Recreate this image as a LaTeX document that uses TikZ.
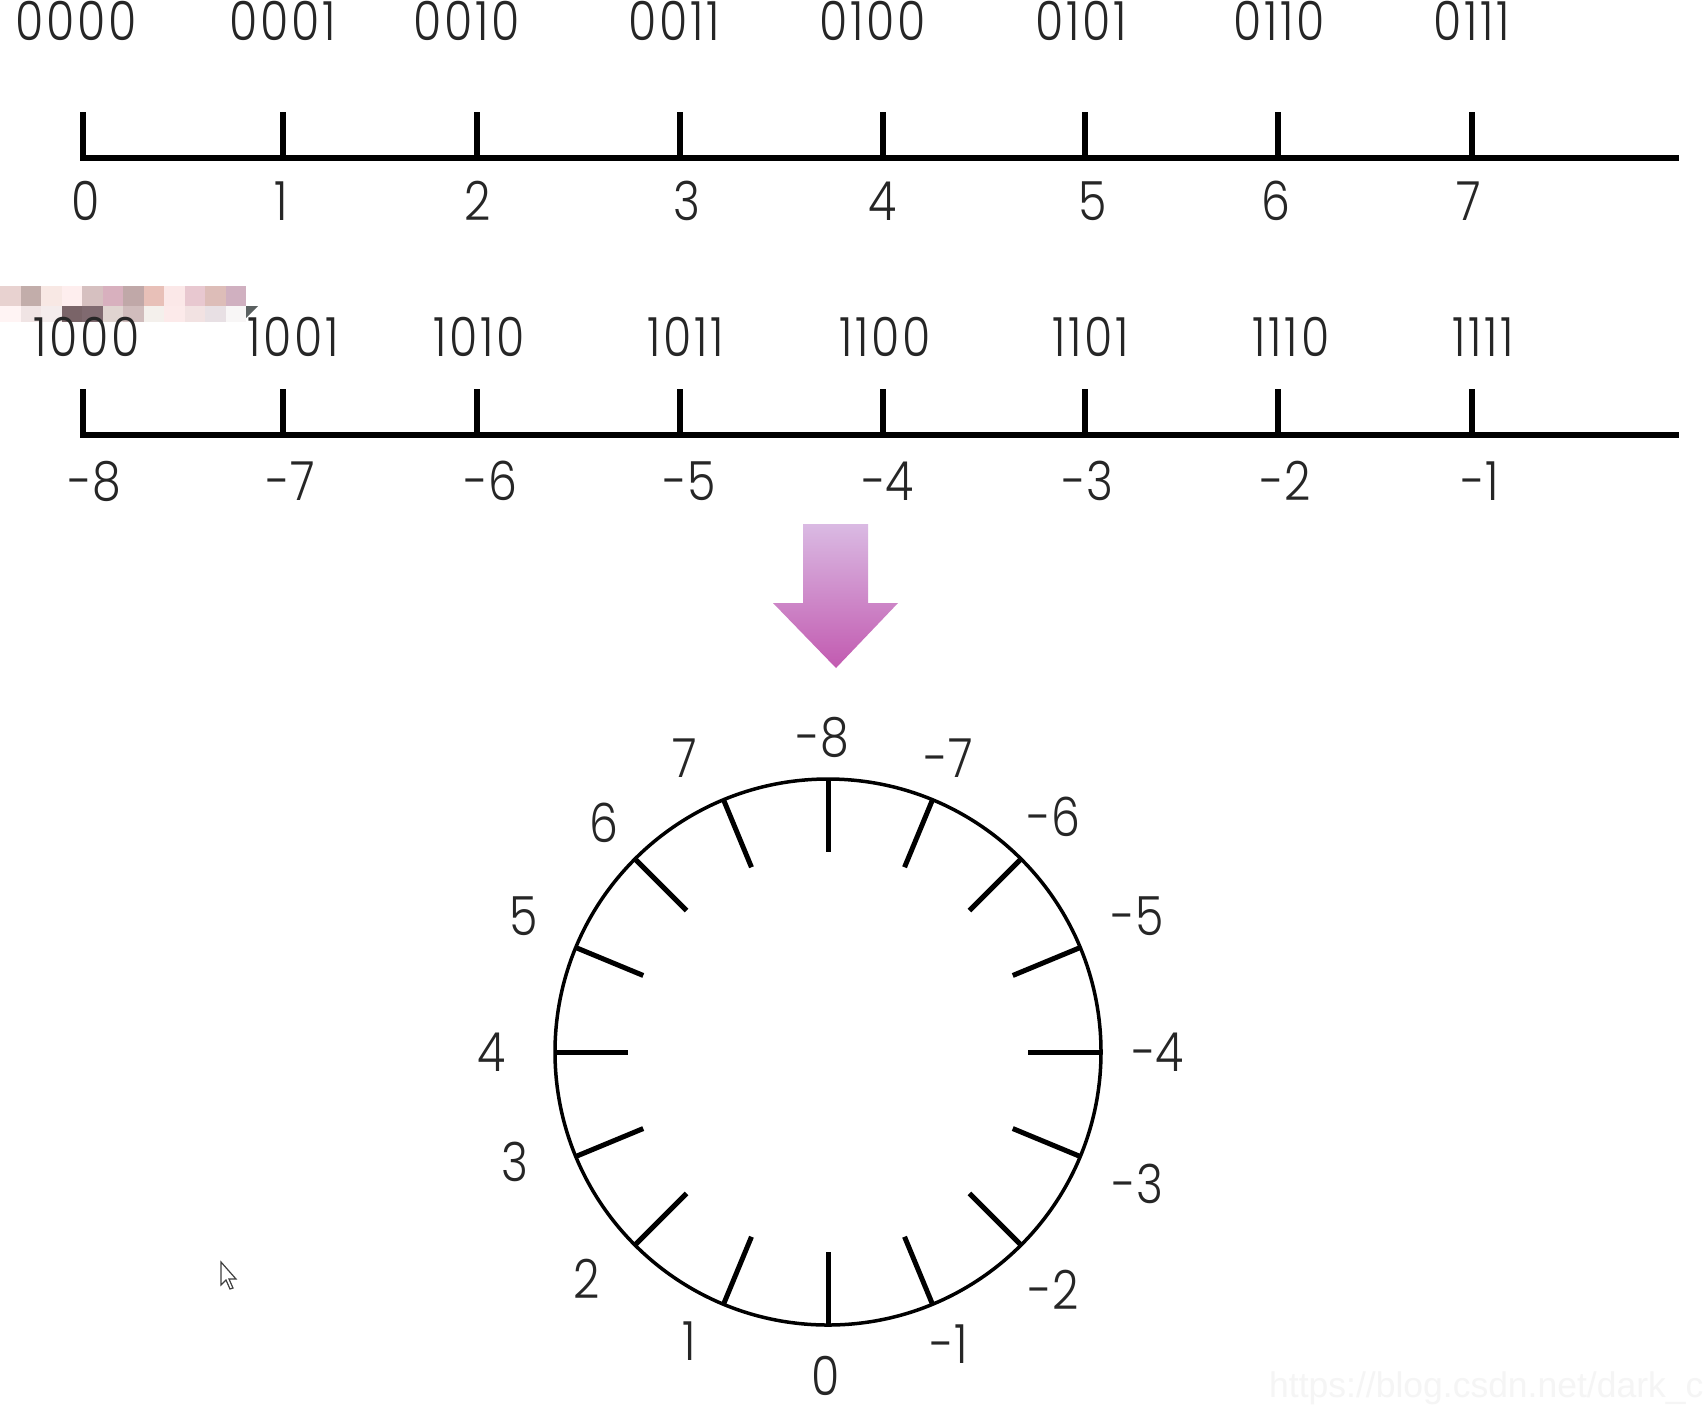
\documentclass[tikz,border=0pt]{standalone}
\usepackage{fontspec}
\setmainfont{Poppins}[UprightFont={* Light},FakeStretch=0.85]
\newfontfamily\binf{Poppins}[UprightFont={* Light},FakeStretch=0.85,LetterSpace=5]
\newfontfamily\wmfont{Liberation Sans}
\usetikzlibrary{calc}
\definecolor{arrtop}{HTML}{DABAE3}
\definecolor{arrbot}{HTML}{C25AB0}
\definecolor{mosdark}{HTML}{5A6060}
\tikzset{
  numlbl/.style={inner sep=0pt,font=\fontsize{54}{60}\selectfont,text=black!85},
  binlbl/.style={inner sep=0pt,font=\binf\fontsize{54}{60}\selectfont,text=black!85},
  axisline/.style={line width=6pt,line join=miter},
  dialtick/.style={line width=5pt},
}
\begin{document}
\begin{tikzpicture}[x=1pt,y=-1pt]
\useasboundingbox (0,0) rectangle (1704,1422);
\clip (0,0) rectangle (1704,1422);
\fill[white] (0,0) rectangle (1704,1422);

% ---- top axis ----
\coordinate (a0) at (83,112);
\coordinate (aend) at (1679,158);
\draw[axisline] (a0) -- (83,158) -- (aend);
\foreach \x in {283,477,680,883,1085,1278,1472}
  \draw[axisline] (\x,112) -- (\x,158);
\foreach \t/\x in {0000/76,0001/283,0010/467,0011/674,0100/873,0101/1081,0110/1279,0111/1472}
  \node[binlbl,anchor=base] (tb\t) at (\x,40) {\t};
\foreach \t/\x in {0/86,1/281,2/478,3/687,4/883,5/1093,6/1276,7/1469}
  \node[numlbl,anchor=base] (tn\t) at (\x,220) {\t};

% ---- mosaic ----
\foreach \c [count=\i from 0] in {E8D2D0,C2ADAA,F8E8E4,FEEEEE,D6C0C0,D8B0BE,C0A8A8,E8C0B8,FBE8E8,E8C8D0,DDBDB8,D0B0C0}{
  \definecolor{mc}{HTML}{\c}
  \fill[mc] (\i*20.5,286) rectangle ++(20.5,20);
}
\foreach \c [count=\i from 0] in {FFF4F4,F0E4E4,F4ECEC,7A6468,806A70,E0D4D0,D0BCBC,F4F0EC,FCEAEA,F2E2E2,E8E0E4,F8F6F6}{
  \definecolor{mc}{HTML}{\c}
  \fill[mc] (\i*20.5,306) rectangle ++(20.5,16);
}
\fill[mosdark] (246,306) -- (258,306) -- (246,318) -- cycle;

% ---- bottom axis ----
\coordinate (b0) at (83,389);
\coordinate (bend) at (1679,435);
\draw[axisline] (b0) -- (83,435) -- (bend);
\foreach \x in {283,477,680,883,1085,1278,1472}
  \draw[axisline] (\x,389) -- (\x,435);
\foreach \t/\x in {1000/87,1001/293,1010/479,1011/686,1100/885,1101/1091,1110/1291,1111/1483}
  \node[binlbl,anchor=base] (bb\t) at (\x,356) {\t};
\foreach \t/\x [count=\i] in {-8/95,-7/291,-6/491,-5/690,-4/888,-3/1088,-2/1286,-1/1480}
  \node[numlbl,anchor=base] (bn\i) at (\x,500) {\t};

% ---- arrow ----
\shade[top color=arrtop,bottom color=arrbot]
  (803,524) -- (868,524) -- (868,603) -- (898,603) -- (836,668) -- (773,603) -- (803,603) -- cycle;

% ---- dial ----
\node[circle,draw,line width=3.5pt,minimum size=546pt,inner sep=0pt] (dial) at (828,1052) {};
\foreach \k in {0,...,15}{
  \pgfmathsetmacro{\ang}{90+22.5*\k}
  \draw[dialtick] ($(dial.center)+({273*cos(\ang)},{-273*sin(\ang)})$) --
                  ($(dial.center)+({200*cos(\ang)},{-200*sin(\ang)})$);
}
\foreach \t/\x/\y [count=\i] in {-8/823/737,-7/949/758,-6/1054/817,-5/1138/916,-4/1158/1052,-3/1138/1184,-2/1054/1290,-1/949/1344,0/826/1376,1/689/1341,2/587/1279,3/515/1162,4/492/1052,5/524/916,6/604/823,7/685/758}
  \node[numlbl] (d\i) at (\x,\y) {\t};

% ---- cursor ----
\draw[line width=1.2pt,fill=white,draw=black!75]
  (221,1262) -- (221,1285) -- (226,1280) -- (230,1289) -- (233,1288) -- (229,1279) -- (236,1279) -- cycle;

% ---- watermark ----
\node[anchor=base west,inner sep=0pt,font=\wmfont\fontsize{35.5}{40}\selectfont,text=black!4] (wm) at (1269,1397) {https://blog.csdn.net/dark\_c};
\end{tikzpicture}
\end{document}
